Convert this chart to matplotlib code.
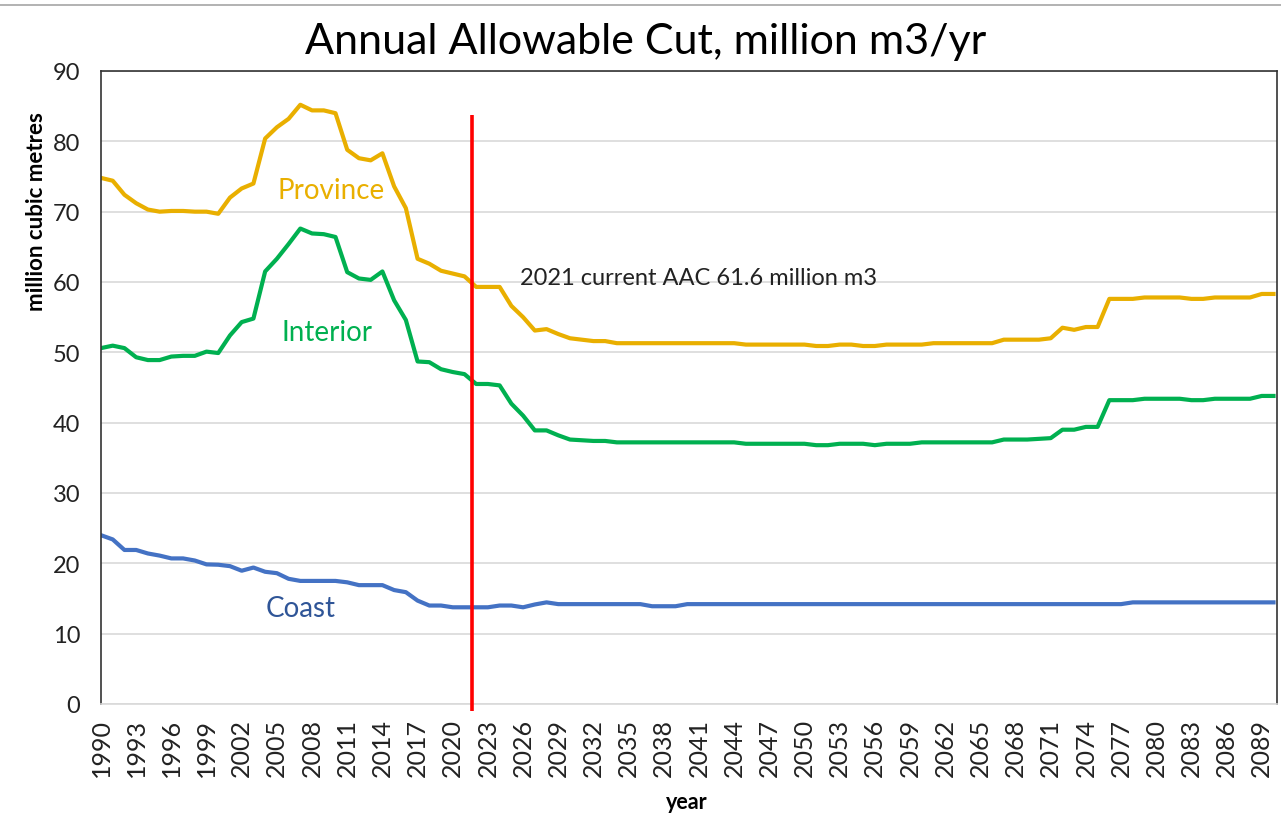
import numpy as np
import matplotlib
matplotlib.use("Agg")
from matplotlib import pyplot as plt
from matplotlib.lines import Line2D

plt.rcParams['font.family'] = ['Lato', 'DejaVu Sans']

years = np.arange(1990, 2091)

province = np.array([
    74.8, 74.4, 72.4, 71.2, 70.3, 70.0, 70.1, 70.1, 70.0, 70.0,   # 1990-1999
    69.7, 72.0, 73.3, 74.0, 80.4, 82.0, 83.2, 85.2, 84.4, 84.4,   # 2000-2009
    84.0, 78.8, 77.6, 77.3, 78.3, 73.6, 70.5, 63.3, 62.6, 61.6,   # 2010-2019
    61.2, 60.8, 59.3, 59.3, 59.3, 56.6, 55.0, 53.1, 53.3, 52.6,   # 2020-2029
    52.0, 51.8, 51.6, 51.6, 51.3, 51.3, 51.3, 51.3, 51.3, 51.3,   # 2030-2039
    51.3, 51.3, 51.3, 51.3, 51.3, 51.1, 51.1, 51.1, 51.1, 51.1,   # 2040-2049
    51.1, 50.9, 50.9, 51.1, 51.1, 50.9, 50.9, 51.1, 51.1, 51.1,   # 2050-2059
    51.1, 51.3, 51.3, 51.3, 51.3, 51.3, 51.3, 51.8, 51.8, 51.8,   # 2060-2069
    51.8, 52.0, 53.5, 53.2, 53.6, 53.6, 57.6, 57.6, 57.6, 57.8,   # 2070-2079
    57.8, 57.8, 57.8, 57.6, 57.6, 57.8, 57.8, 57.8, 57.8, 58.3,   # 2080-2089
    58.3])                                                          # 2090

interior = np.array([
    50.6, 50.95, 50.6, 49.3, 48.9, 48.9, 49.4, 49.5, 49.5, 50.1,
    49.9, 52.4, 54.3, 54.8, 61.5, 63.3, 65.4, 67.6, 66.9, 66.8,
    66.4, 61.4, 60.5, 60.3, 61.5, 57.4, 54.6, 48.7, 48.6, 47.6,
    47.2, 46.9, 45.5, 45.5, 45.3, 42.7, 41.0, 38.9, 38.9, 38.2,
    37.6, 37.5, 37.4, 37.4, 37.2, 37.2, 37.2, 37.2, 37.2, 37.2,
    37.2, 37.2, 37.2, 37.2, 37.2, 37.0, 37.0, 37.0, 37.0, 37.0,
    37.0, 36.8, 36.8, 37.0, 37.0, 37.0, 36.8, 37.0, 37.0, 37.0,
    37.2, 37.2, 37.2, 37.2, 37.2, 37.2, 37.2, 37.6, 37.6, 37.6,
    37.7, 37.8, 39.0, 39.0, 39.4, 39.4, 43.2, 43.2, 43.2, 43.4,
    43.4, 43.4, 43.4, 43.2, 43.2, 43.4, 43.4, 43.4, 43.4, 43.8,
    43.8])

coast = np.array([
    24.0, 23.4, 21.9, 21.9, 21.4, 21.1, 20.7, 20.7, 20.4, 19.85,
    19.8, 19.6, 18.95, 19.4, 18.8, 18.6, 17.8, 17.5, 17.5, 17.5,
    17.5, 17.3, 16.9, 16.9, 16.9, 16.2, 15.9, 14.7, 14.0, 14.0,
    13.75, 13.75, 13.75, 13.75, 14.0, 14.0, 13.75, 14.15, 14.45, 14.2,
    14.2, 14.2, 14.2, 14.2, 14.2, 14.2, 14.2, 13.9, 13.9, 13.9,
    14.2, 14.2, 14.2, 14.2, 14.2, 14.2, 14.2, 14.2, 14.2, 14.2,
    14.2, 14.2, 14.2, 14.2, 14.2, 14.2, 14.2, 14.2, 14.2, 14.2,
    14.2, 14.2, 14.2, 14.2, 14.2, 14.2, 14.2, 14.2, 14.2, 14.2,
    14.2, 14.2, 14.2, 14.2, 14.2, 14.2, 14.2, 14.2, 14.45, 14.45,
    14.45, 14.45, 14.45, 14.45, 14.45, 14.45, 14.45, 14.45, 14.45, 14.45,
    14.45])

current_year = 2021.6
tick_years = np.arange(1990, 2090, 3)

gold = "#E9AF00"
green = "#00B050"
blue = "#4472C4"

fig = plt.figure(figsize=(12.81, 8.29), dpi=100)
ax = fig.add_axes([101/1281, 1 - 705/829, 1176/1281, 633/829])

ax.plot(years, province, color=gold, lw=3, solid_joinstyle="round")
ax.plot(years, interior, color=green, lw=3, solid_joinstyle="round")
ax.plot(years, coast, color=blue, lw=3, solid_joinstyle="round")
ax.vlines(current_year, -1, 83.8, color="red", lw=2.6, clip_on=False, zorder=5)

ax.text(2009.6, 73.1, "Province", color=gold, fontsize=20, ha="center", va="center")
ax.text(2009.3, 52.9, "Interior", color=green, fontsize=20, ha="center", va="center")
ax.text(2007.0, 13.7, "Coast", color="#2F5597", fontsize=20, ha="center", va="center")
ax.text(2025.7, 60.6, "2021 current AAC 61.6 million m3", color="#222222",
        fontsize=17, ha="left", va="center")

ax.set_xlim(1990, 2090.3)
ax.set_ylim(0, 90)
ax.set_yticks(np.arange(0, 91, 10))
ax.set_xticks(tick_years)
ax.set_xticklabels([str(y) for y in tick_years], rotation=90, fontsize=18)
ax.tick_params(axis="y", labelsize=17, length=0, pad=15, labelcolor="#222222")
ax.tick_params(axis="x", length=0, pad=10, labelcolor="#222222")
ax.grid(axis="y", color="#D9D9D9", lw=1.2)
ax.set_axisbelow(True)

for side in ["left", "top", "right"]:
    ax.spines[side].set_color("#333333")
    ax.spines[side].set_linewidth(1.2)
ax.spines["bottom"].set_color("#D9D9D9")
ax.spines["bottom"].set_linewidth(1.2)

ax.set_ylabel("million cubic metres", fontsize=16, fontweight="bold")
ax.yaxis.set_label_coords(-0.046, 0.78)
ax.set_xlabel("year", fontsize=15.5, fontweight="bold")
ax.xaxis.set_label_coords(0.498, -0.137)

fig.text(0.504, 1 - 42/829, "Annual Allowable Cut, million m3/yr", fontsize=31,
         ha="center", va="center")
fig.add_artist(Line2D([0, 1], [1 - 6/829, 1 - 6/829], color="#A6A6A6", lw=1.2))

fig.savefig("out.png", dpi=100)
